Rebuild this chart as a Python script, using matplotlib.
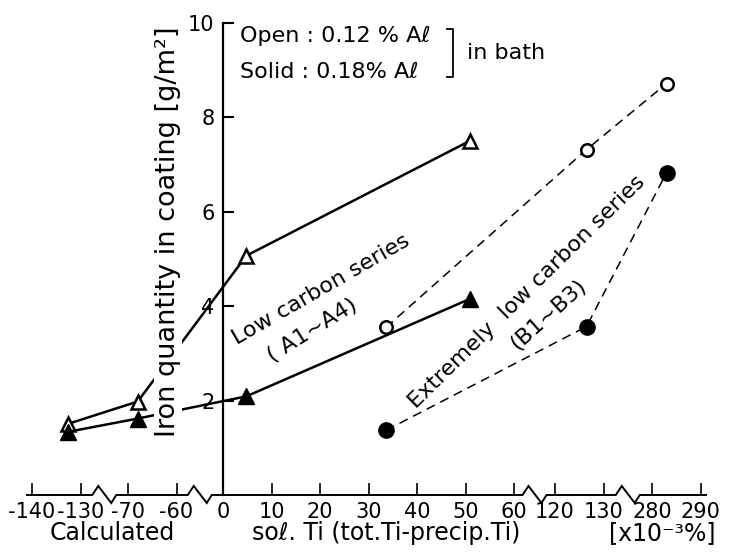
import numpy as np
import matplotlib
matplotlib.use("Agg")
import matplotlib.pyplot as plt

# ---------------- data ----------------
low_x = [-132.5, -68.0, 4.8, 51.0]          # low carbon series A1~A4
low_open_y = [1.51, 1.98, 5.07, 7.51]       # open: 0.12% Al
low_solid_y = [1.34, 1.62, 2.09, 4.16]      # solid: 0.18% Al
ext_x = [33.6, 126.5, 283.0]                # extremely low carbon series B1~B3
ext_open_y = [3.55, 7.32, 8.72]
ext_solid_y = [1.37, 3.57, 6.83]

xticks = [-140, -130, -70, -60, 0, 10, 20, 30, 40, 50, 60, 120, 130, 280, 290]
xtick_labels = ["-140", "-130", "-70", "-60", "0", "10", "20", "30", "40",
                "50", "60", "120", "130", "280", "290"]
yticks = [2, 4, 6, 8, 10]
ytick_labels = ["2", "4", "6", "8", "10"]

# broken x axis: kept segments
seg_lo = [-140, -70, 0, 120, 280]
seg_hi = [-130, -60, 60, 130, 290]

# ---------------- layout ----------------
W, H = 732, 552
seg_px = [32, 128, 223, 555, 652]
PXU = 4.85                     # pixels per 1 unit of x
PX_PER_Y = 47.19
Y0_PX = 495.0                  # pixel row of y = 0 (from top)

kx, ku = [], []
for lo, hi, p in zip(seg_lo, seg_hi, seg_px):
    kx += [lo, hi]
    ku += [p, p + (hi - lo) * PXU]
kx = [kx[0] - 1000] + kx + [kx[-1] + 1000]
ku = [ku[0] - 1000 * PXU] + ku + [ku[-1] + 1000 * PXU]
kx = np.array(kx, float)
ku = np.array(ku, float)


def fwd(x):
    return np.interp(x, kx, ku)


def inv(u):
    return np.interp(u, ku, kx)


def ypx(py):
    return (Y0_PX - py) / PX_PER_Y


fig = plt.figure(figsize=(W / 100, H / 100), dpi=100)
ymax = 10.3
ax = fig.add_axes([0, (H - Y0_PX) / H, 1, ymax * PX_PER_Y / H])
ax.set_xscale('function', functions=(fwd, inv))
ax.set_xlim(float(inv(0)), float(inv(W)))
ax.set_ylim(0, ymax)

for s in ['top', 'right', 'bottom']:
    ax.spines[s].set_visible(False)
ax.spines['left'].set_position(('data', 0))
ax.spines['left'].set_bounds(0, 10)
ax.spines['left'].set_linewidth(1.6)

ax.set_xticks(xticks, labels=xtick_labels)
ax.set_yticks(yticks, labels=ytick_labels)
ax.xaxis.set_minor_locator(matplotlib.ticker.NullLocator())
ax.yaxis.set_minor_locator(matplotlib.ticker.NullLocator())
ax.tick_params(axis='x', direction='in', length=9, width=1.2, labelsize=15, pad=5)
ax.tick_params(axis='y', direction='in', length=8, width=1.5, labelsize=15, pad=6)
for lab in ax.get_yticklabels():
    lab.set_bbox(dict(facecolor='white', edgecolor='none', pad=1.5))

# broken x-axis line with zigzags
u_pts = [27]
y_pts = [0.0]
gaps = [(ku[2], ku[3]), (ku[4], ku[5]), (ku[6], ku[7]), (ku[8], ku[9])]
for a, b in gaps:
    c = 0.5 * (a + b)
    u_pts += [c - 12, c - 6, c + 7, c + 12]
    y_pts += [0.0, 9 / PX_PER_Y, -8 / PX_PER_Y, 0.0]
u_pts += [706]
y_pts += [0.0]
ax.plot(inv(np.array(u_pts)), y_pts, color='black', lw=1.4, clip_on=False,
        solid_joinstyle='miter', zorder=2)

# data series
ax.plot(low_x, low_open_y, '-', color='black', lw=1.8, marker='^', ms=10,
        mfc='white', mec='black', mew=1.8, zorder=2)
ax.plot(low_x, low_solid_y, '-', color='black', lw=1.8, marker='^', ms=11,
        mfc='black', mec='black', zorder=2)
ax.plot(ext_x, ext_open_y, '--', color='black', lw=1.1, dashes=(6, 4), marker='o',
        ms=9, mfc='white', mec='black', mew=1.8, zorder=2)
ax.plot(ext_x, ext_solid_y, '--', color='black', lw=1.1, dashes=(6, 4), marker='o',
        ms=11, mfc='black', mec='black', zorder=2)

# y label
ax.text(float(inv(168)), ypx(231.5), "Iron quantity in coating [g/m²]", rotation=90,
        ha='center', va='center', fontsize=19.5, zorder=3,
        bbox=dict(facecolor='white', edgecolor='none', pad=1))

# legend block
ax.text(float(inv(240)), ypx(36), "Open : 0.12 % Aℓ", ha='left', va='center', fontsize=16)
ax.text(float(inv(240)), ypx(72), "Solid : 0.18% Aℓ", ha='left', va='center', fontsize=16)
bu = np.array([447, 453, 453, 447])
by = [ypx(29), ypx(29), ypx(77), ypx(77)]
ax.plot(inv(bu), by, color='black', lw=1.3)
ax.text(float(inv(467)), ypx(53), "in bath", ha='left', va='center', fontsize=16)

# series annotations
ax.text(float(inv(321)), ypx(290), "Low carbon series", rotation=30,
        ha='center', va='center', fontsize=16, rotation_mode='anchor')
ax.text(float(inv(312)), ypx(330), "( A1~A4)", rotation=32,
        ha='center', va='center', fontsize=16, rotation_mode='anchor')
ax.text(float(inv(527)), ypx(292), "Extremely  low carbon series", rotation=44.5,
        ha='center', va='center', fontsize=16, rotation_mode='anchor')
ax.text(float(inv(548)), ypx(315), "(B1~B3)", rotation=42,
        ha='center', va='center', fontsize=16, rotation_mode='anchor')

# x axis title pieces
fig.text(112 / W, 1 - 533 / H, "Calculated", ha='center', va='center', fontsize=17)
fig.text(386 / W, 1 - 533 / H, "soℓ. Ti (tot.Ti-precip.Ti)", ha='center', va='center', fontsize=17)
fig.text(662 / W, 1 - 533 / H, "[x10⁻³%]", ha='center', va='center', fontsize=17)

fig.savefig("out.png", dpi=100)
